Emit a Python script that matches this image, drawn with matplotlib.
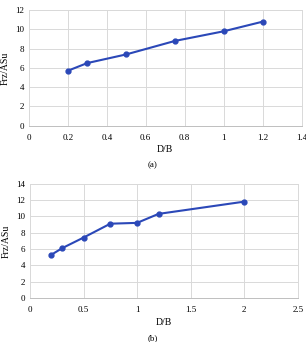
import matplotlib
matplotlib.use("Agg")
import matplotlib.pyplot as plt

plt.rcParams['font.family'] = ['Liberation Serif', 'DejaVu Serif']

x_a = [0.2, 0.3, 0.5, 0.75, 1.0, 1.2]
y_a = [5.7, 6.5, 7.4, 8.8, 9.8, 10.8]
x_b = [0.2, 0.3, 0.5, 0.75, 1.0, 1.2, 2.0]
y_b = [5.3, 6.1, 7.4, 9.1, 9.2, 10.3, 11.8]

xticks_a = [0, 0.2, 0.4, 0.6, 0.8, 1, 1.2, 1.4]
xticklabels_a = ['0', '0.2', '0.4', '0.6', '0.8', '1', '1.2', '1.4']
yticks_a = [0, 2, 4, 6, 8, 10, 12]
xticks_b = [0, 0.5, 1, 1.5, 2, 2.5]
xticklabels_b = ['0', '0.5', '1', '1.5', '2', '2.5']
yticks_b = [0, 2, 4, 6, 8, 10, 12, 14]

color = '#2b48b8'
grid_c = '#d9d9d9'

fig = plt.figure(figsize=(3.06, 3.42), dpi=100)

def style(ax, xt, xtl, yt, caption, ycap, ylx, xly):
    ax.set_xticks(xt)
    ax.set_xticklabels(xtl)
    ax.set_yticks(yt)
    ax.set_xlim(xt[0], xt[-1])
    ax.set_ylim(yt[0], yt[-1])
    ax.grid(True, color=grid_c, linewidth=0.7)
    ax.set_axisbelow(True)
    for s in ax.spines.values():
        s.set_color(grid_c)
        s.set_linewidth(0.7)
    ax.spines['bottom'].set_color('#bfbfbf')
    ax.tick_params(axis='x', length=0, labelsize=6.5, pad=6)
    ax.tick_params(axis='y', length=0, labelsize=6.5, pad=3.5)
    ax.set_xlabel('D/B', fontsize=7)
    ax.set_ylabel('Frz/ASu', fontsize=7, va='center')
    ax.yaxis.set_label_coords(ylx, 0.5)
    ax.xaxis.set_label_coords(0.5, xly)
    ax.xaxis.label.set_va('center')
    fig.text(0.5, ycap, caption, ha='center', va='center', fontsize=6.5)

ax1 = fig.add_axes([0.094, 0.6325, 0.892, 0.338])
ax1.plot(x_a, y_a, color=color, linewidth=1.5, marker='o', markersize=3.5)
style(ax1, xticks_a, xticklabels_a, yticks_a, '(a)', 1 - 165 / 342, -0.085, -0.21)

ax2 = fig.add_axes([0.098, 0.1287, 0.875, 0.3342])
ax2.plot(x_b, y_b, color=color, linewidth=1.5, marker='o', markersize=3.5)
style(ax2, xticks_b, xticklabels_b, yticks_b, '(b)', 1 - 337.7 / 342, -0.09, -0.216)

fig.savefig('out.png', dpi=100)
